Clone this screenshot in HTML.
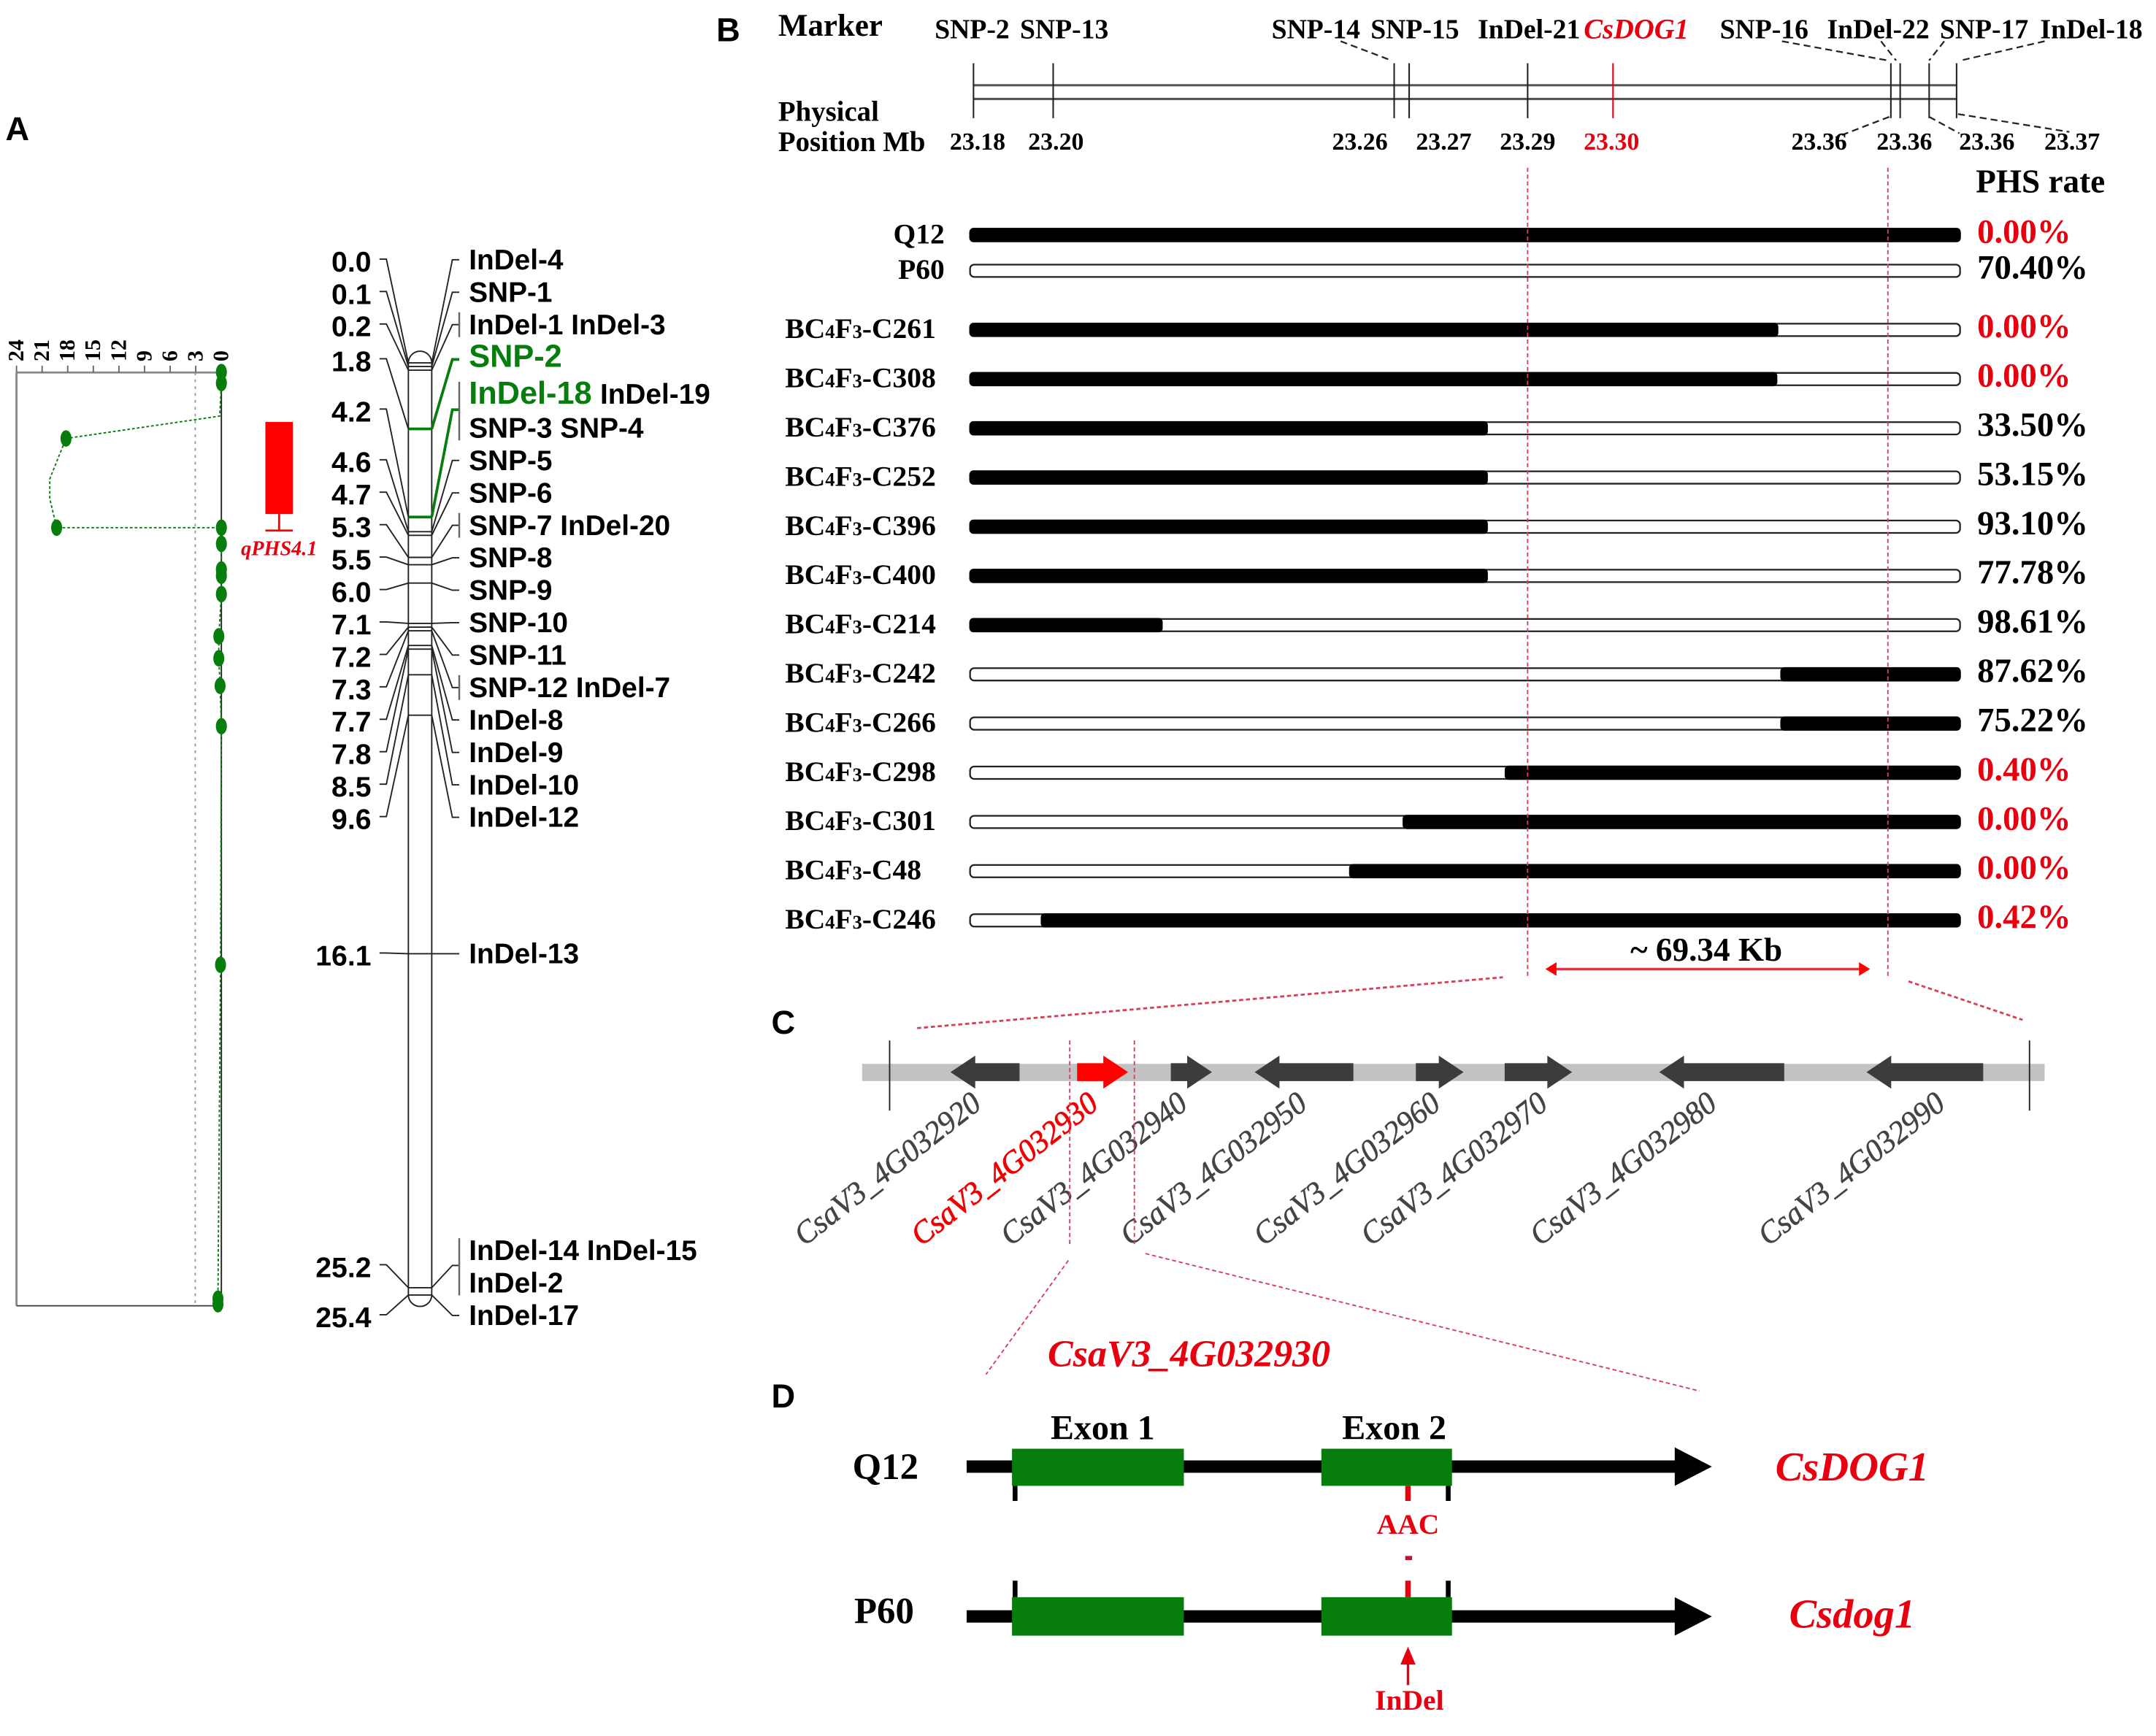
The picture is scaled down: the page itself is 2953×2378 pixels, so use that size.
<!DOCTYPE html>
<html lang="en">
<head>
<meta charset="utf-8">
<title>qPHS4.1 fine mapping of CsDOG1</title>
<style>
html,body{margin:0;padding:0;background:#fff}
svg{display:block}
.sans{font-family:"Liberation Sans",sans-serif;font-weight:700}
.serif{font-family:"Liberation Serif",serif;font-weight:700}
.ital{font-family:"Liberation Serif",serif;font-weight:700;font-style:italic}
.gene{font-family:"Liberation Serif",serif;font-style:italic;font-size:23px;fill:#444;stroke:#444;stroke-width:.3}
.gene.hot{fill:#f00000;stroke:#f00000;stroke-width:.45}
.red{fill:#e8000f}
.pink{stroke:#d8405a;stroke-width:1;stroke-dasharray:3 2;fill:none}
.dash{stroke:#222;stroke-width:1.2;stroke-dasharray:5 3;fill:none}
</style>
</head>
<body>
<svg id="fig" xmlns="http://www.w3.org/2000/svg" width="2953" height="2378" viewBox="0 0 1568 1263" preserveAspectRatio="none">
  <rect width="1568" height="1263" fill="#fff"/>

  <!-- Panel letters -->
  <text class="sans" font-size="24" x="4" y="102">A</text>
  <text class="sans" font-size="24" x="521" y="30">B</text>
  <text class="sans" font-size="24" x="561" y="752">C</text>
  <text class="sans" font-size="24" x="561" y="1024">D</text>

  <!-- Panel A frame -->
  <g id="lod-frame">
    <line x1="12" y1="271" x2="161" y2="271" stroke="#888" stroke-width="1.5"/>
    <line x1="12" y1="271" x2="12" y2="950" stroke="#888" stroke-width="1.5"/>
    <line x1="12" y1="950" x2="161" y2="950" stroke="#444" stroke-width="1"/>
    <line x1="161" y1="271" x2="161" y2="950" stroke="#222" stroke-width="1"/>
    <line x1="142" y1="271" x2="142" y2="950" stroke="#999" stroke-width="1" stroke-dasharray="2 3"/>
  </g>
  <g id="lod-axis"></g>
  <g id="lod-layer"></g>

  <!-- QTL -->
  <rect x="193" y="307" width="20" height="67" fill="#ff0000"/>
  <line x1="203" y1="374" x2="203" y2="386" stroke="#ff0000" stroke-width="1.5"/>
  <line x1="193" y1="386" x2="213" y2="386" stroke="#ff0000" stroke-width="1.5"/>
  <text class="ital red" font-size="15" x="203" y="404" text-anchor="middle">qPHS4.1</text>

  <!-- Genetic map -->
  <path d="M297 264 A8.5 8.5 0 0 1 314 264 V942 A8.5 8.5 0 0 1 297 942 Z" fill="#fff" stroke="#222" stroke-width="1"/>
  <g id="map-layer"></g>

  <!-- Panel B header -->
  <text class="serif" font-size="22.8" x="566" y="26">Marker</text>
  <text class="serif" font-size="20.6" x="566" y="88">Physical</text>
  <text class="serif" font-size="20.6" x="566" y="110">Position Mb</text>
  <g id="marker-names" class="serif" font-size="20" text-anchor="middle">
    <text x="707" y="28">SNP-2</text>
    <text x="774" y="28">SNP-13</text>
    <text x="957" y="28">SNP-14</text>
    <text x="1029" y="28">SNP-15</text>
    <text x="1112" y="28">InDel-21</text>
    <text class="ital red" font-size="20.5" x="1190" y="28">CsDOG1</text>
    <text x="1283" y="28">SNP-16</text>
    <text x="1366" y="28">InDel-22</text>
    <text x="1443" y="28">SNP-17</text>
    <text x="1521" y="28">InDel-18</text>
  </g>
  <g>
    <line class="dash" x1="975" y1="30" x2="1012" y2="44"/>
    <line class="dash" x1="1296" y1="30" x2="1373" y2="44"/>
    <line class="dash" x1="1368" y1="30" x2="1379" y2="44"/>
    <line class="dash" x1="1414" y1="30" x2="1403" y2="44"/>
    <line class="dash" x1="1487" y1="30" x2="1426" y2="44"/>
    <line class="dash" x1="1374" y1="85" x2="1335" y2="100"/>
    <line class="dash" x1="1424" y1="83" x2="1505" y2="96"/>
    <line class="dash" x1="1403" y1="85" x2="1425" y2="97"/>
  </g>
  <g id="phys-labels" class="serif" font-size="18" text-anchor="middle">
    <text x="711" y="109">23.18</text>
    <text x="768" y="109">23.20</text>
    <text x="989" y="109">23.26</text>
    <text x="1050" y="109">23.27</text>
    <text x="1111" y="109">23.29</text>
    <text class="red" x="1172" y="109">23.30</text>
    <text x="1323" y="109">23.36</text>
    <text x="1385" y="109">23.36</text>
    <text x="1445" y="109">23.36</text>
    <text x="1507" y="109">23.37</text>
  </g>
  <line x1="708" y1="62" x2="1423" y2="62" stroke="#555" stroke-width="1.6"/>
  <line x1="708" y1="72" x2="1423" y2="72" stroke="#555" stroke-width="1.6"/>
  <g id="phys-layer"></g>

  <text class="serif" font-size="24" x="1437" y="140">PHS rate</text>
  <g id="hap-layer"></g>

  <line class="pink" x1="1111" y1="122" x2="1111" y2="710"/>
  <line class="pink" x1="1373" y1="122" x2="1373" y2="710"/>
  <text class="serif" font-size="24" x="1241" y="699" text-anchor="middle">~ 69.34 Kb</text>
  <line x1="1130" y1="705" x2="1354" y2="705" stroke="#e03040" stroke-width="1.8"/>
  <polygon points="1124,705 1132,700 1132,710" fill="#f00"/>
  <polygon points="1360,705 1352,700 1352,710" fill="#f00"/>
  <line class="pink" style="stroke-width:1.5" x1="667" y1="748" x2="1093" y2="711"/>
  <line class="pink" style="stroke-width:1.5" x1="1388" y1="714" x2="1471" y2="742"/>

  <!-- Panel C -->
  <rect x="627" y="774" width="860" height="12.5" fill="#c2c2c2"/>
  <line x1="647" y1="757" x2="647" y2="808" stroke="#222" stroke-width="1"/>
  <line x1="1476" y1="757" x2="1476" y2="808" stroke="#222" stroke-width="1"/>
  <g id="gene-layer"></g>
  <g>
    <text class="gene" transform="translate(585,907) rotate(-38)" textLength="165" lengthAdjust="spacingAndGlyphs">CsaV3_4G032920</text>
    <text class="gene hot" transform="translate(670,907) rotate(-38)" textLength="165" lengthAdjust="spacingAndGlyphs">CsaV3_4G032930</text>
    <text class="gene" transform="translate(735,907) rotate(-38)" textLength="165" lengthAdjust="spacingAndGlyphs">CsaV3_4G032940</text>
    <text class="gene" transform="translate(822,907) rotate(-38)" textLength="165" lengthAdjust="spacingAndGlyphs">CsaV3_4G032950</text>
    <text class="gene" transform="translate(919,907) rotate(-38)" textLength="165" lengthAdjust="spacingAndGlyphs">CsaV3_4G032960</text>
    <text class="gene" transform="translate(997,907) rotate(-38)" textLength="165" lengthAdjust="spacingAndGlyphs">CsaV3_4G032970</text>
    <text class="gene" transform="translate(1120,907) rotate(-38)" textLength="165" lengthAdjust="spacingAndGlyphs">CsaV3_4G032980</text>
    <text class="gene" transform="translate(1286,907) rotate(-38)" textLength="165" lengthAdjust="spacingAndGlyphs">CsaV3_4G032990</text>
  </g>
  <line class="pink" x1="778" y1="757" x2="778" y2="906"/>
  <line class="pink" x1="825" y1="757" x2="825" y2="906"/>
  <line class="pink" x1="777" y1="917" x2="717" y2="1000"/>
  <line class="pink" x1="833" y1="912" x2="1236" y2="1012"/>

  <!-- Panel D -->
  <text class="ital red" font-size="27.6" x="762" y="994">CsaV3_4G032930</text>
  <text class="serif" font-size="25.5" x="802" y="1047" text-anchor="middle">Exon 1</text>
  <text class="serif" font-size="25.5" x="1014" y="1047" text-anchor="middle">Exon 2</text>

  <text class="serif" font-size="27" x="644" y="1076" text-anchor="middle">Q12</text>
  <rect x="703" y="1062.5" width="518" height="9" fill="#000"/>
  <polygon points="1218,1053 1245,1067 1218,1081" fill="#000"/>
  <rect x="736" y="1054" width="125" height="27" fill="#067d0c"/>
  <rect x="961" y="1054" width="95" height="27" fill="#067d0c"/>
  <rect x="736.5" y="1081" width="3.5" height="11" fill="#000"/>
  <rect x="1051.5" y="1081" width="3.5" height="11" fill="#000"/>
  <rect x="1022" y="1081" width="4" height="11" fill="#e8000f"/>
  <text class="serif red" font-size="21" x="1024" y="1116" text-anchor="middle">AAC</text>
  <rect x="1022" y="1132" width="5" height="3" fill="#c8102e"/>
  <text class="ital red" font-size="30" x="1347" y="1077" text-anchor="middle">CsDOG1</text>

  <text class="serif" font-size="27" x="643" y="1181" text-anchor="middle">P60</text>
  <rect x="703" y="1171.5" width="518" height="9" fill="#000"/>
  <polygon points="1218,1162 1245,1176 1218,1190" fill="#000"/>
  <rect x="736" y="1162" width="125" height="28" fill="#067d0c"/>
  <rect x="961" y="1162" width="95" height="28" fill="#067d0c"/>
  <rect x="736.5" y="1150" width="3.5" height="12" fill="#000"/>
  <rect x="1051.5" y="1150" width="3.5" height="12" fill="#000"/>
  <rect x="1022" y="1150" width="4" height="12" fill="#e8000f"/>
  <line x1="1024" y1="1226" x2="1024" y2="1206" stroke="#e8000f" stroke-width="1.8"/>
  <polygon points="1024,1198 1018.5,1211 1029.5,1211" fill="#e8000f"/>
  <text class="serif red" font-size="21" x="1025" y="1244" text-anchor="middle">InDel</text>
  <text class="ital red" font-size="30" x="1347" y="1184" text-anchor="middle">Csdog1</text>
</svg>

<script>
// ---------- Panel A: LOD profile ----------
const lodTicks = [24, 21, 18, 15, 12, 9, 6, 3, 0];
const lodCm = [0.25, 0.55, 1.45, 2.06, 3.16, 3.7, 4.49, 4.49, 4.93, 5.63, 5.8, 6.3, 7.45, 8.05, 8.8, 9.9, 16.4, 25.5, 25.65];
const lodValues = [0, 0, 0.2, 18.2, 20.1, 20.1, 19.3, 0, 0, 0, 0, 0, 0.3, 0.3, 0.15, 0, 0.1, 0.4, 0.4];
const lodHasPoint = [1, 1, 0, 1, 0, 0, 1, 1, 1, 1, 1, 1, 1, 1, 1, 1, 1, 1, 1];

// ---------- Panel A: genetic map ----------
const mapCm = [0.0, 0.1, 0.2, 1.8, 4.2, 4.6, 4.7, 5.3, 5.5, 6.0, 7.1, 7.2, 7.3, 7.7, 7.8, 8.5, 9.6, 16.1, 25.2, 25.4];
const mapMarkers = [
  ['InDel-4'], ['SNP-1'], ['InDel-1 InDel-3'], ['SNP-2'],
  ['InDel-18|InDel-19', 'SNP-3 SNP-4'], ['SNP-5'], ['SNP-6'], ['SNP-7 InDel-20'],
  ['SNP-8'], ['SNP-9'], ['SNP-10'], ['SNP-11'], ['SNP-12 InDel-7'],
  ['InDel-8'], ['InDel-9'], ['InDel-10'], ['InDel-12'], ['InDel-13'],
  ['InDel-14 InDel-15', 'InDel-2'], ['InDel-17']
];
const mapHighlighted = ['1.8', '4.2'];

// ---------- Panel B: physical map ----------
const physicalMb = [23.18, 23.1954, 23.2613, 23.2642, 23.2871, 23.3036, 23.3573, 23.3591, 23.3647, 23.37];
const physicalIsCandidate = [0, 0, 0, 0, 0, 1, 0, 0, 0, 0];

// ---------- Panel B: haplotypes ----------
const lineNames = ['Q12', 'P60', 'C261', 'C308', 'C376', 'C252', 'C396', 'C400', 'C214', 'C242', 'C266', 'C298', 'C301', 'C48', 'C246'];
const blackFrom = [0, 0, 0, 0, 0, 0, 0, 0, 0, 81.8, 81.8, 54, 43.7, 38.3, 7.2];
const blackTo = [100, 0, 81.6, 81.5, 52.3, 52.3, 52.3, 52.3, 19.5, 100, 100, 100, 100, 100, 100];
const phsRates = [0.00, 70.40, 0.00, 0.00, 33.50, 53.15, 93.10, 77.78, 98.61, 87.62, 75.22, 0.40, 0.00, 0.00, 0.42];

// ---------- Panel C: genes (Kb along the interval) ----------
const geneIds = ['920', '930', '940', '950', '960', '970', '980', '990'];
const geneStartKb = [3.7, 11.4, 17.1, 22.2, 32.0, 37.4, 46.8, 59.4];
const geneEndKb = [7.9, 14.5, 19.6, 28.2, 34.9, 41.5, 54.4, 66.5];
const geneStrand = [-1, 1, 1, -1, 1, 1, -1, -1];

// ---------- helpers / scales ----------
const NS = 'http://www.w3.org/2000/svg';
const GREEN = '#067d0c';
function mk(tag, parent, attrs) {
  const el = document.createElementNS(NS, tag);
  for (const k in attrs) el.setAttribute(k, attrs[k]);
  parent.appendChild(el);
  return el;
}
const lodX = v => 161 - v * 149 / 24;
const cmY = c => 264 + 26.7 * c;
const mbX = m => 708 + (m - 23.18) * 3763;
const pctX = p => 705 + p * 7.21;
const kbX = k => 647 + k * 11.96;

// LOD axis
const lodAxis = document.getElementById('lod-axis');
lodTicks.forEach(t => {
  const tick = mk('line', lodAxis, {x1: lodX(t), x2: lodX(t), y1: 266, y2: 271, stroke: '#666', 'stroke-width': 1});
  
  
  const lab = mk('text', lodAxis, {transform: `translate(${lodX(t) + 5},263) rotate(-90)`, 'font-size': 16, 'class': 'serif'});
  lab.textContent = t;
  
  
});

// LOD curve + points
const lodLayer = document.getElementById('lod-layer');
const lodLine = mk('polyline', lodLayer, {
  points: lodCm.map((c, i) => lodX(lodValues[i]) + ',' + cmY(c)).join(' '),
  fill: 'none', stroke: GREEN, 'stroke-width': 1, 'stroke-dasharray': '2 1.5'
});


lodCm.forEach((c, i) => {
  if (!lodHasPoint[i]) return;
  const p = mk('ellipse', lodLayer, {cx: lodX(lodValues[i]), cy: cmY(c), rx: 4, ry: 6, fill: GREEN});
  
  
});

// Genetic map: labels stack in clusters; a wide gap between loci starts a new cluster
const mapLayer = document.getElementById('map-layer');
const CLUSTER_GAP = 100;
let cursor = 189;
mapCm.forEach((cm, i) => {
  const barY = cmY(cm);
  if (i > 0 && barY - cmY(mapCm[i - 1]) > CLUSTER_GAP) {
    let count = 0, j = i;
    while (j < mapCm.length && (j === i || cmY(mapCm[j]) - cmY(mapCm[j - 1]) <= CLUSTER_GAP)) { count += mapMarkers[j].length; j++; }
    cursor = barY - 13.5 * (count - 1);
  }
  const green = mapHighlighted.includes(cm.toFixed(1));
  const lines = mapMarkers[i];
  const firstY = cursor;
  lines.forEach((txt, k) => {
    const parts = txt.split('|');
    const t = mk('text', mapLayer, {x: 341, y: cursor + 7, 'class': 'sans', 'font-size': 20.6});
    
    
    if (green && k === 0) {
      const s = mk('tspan', t, {fill: GREEN, 'font-size': 23});
      s.textContent = parts[0];
      
      
      if (parts[1]) {
        const s2 = mk('tspan', t, {dx: 6});
        s2.textContent = parts[1];
        
        
      }
      cursor += lines.length > 1 ? 1 : 3.4;
    } else {
      t.textContent = parts.join(' ');
    }
    cursor += 23.6;
  });
  const lastY = cursor - 23.6;
  const midY = (firstY + lastY) / 2 + (lines.length > 1 ? -1 : 0);
  const multi = lines.length > 1 || lines[0].includes(' ');
  const col = green ? GREEN : '#222';
  const sw = green ? 2 : 1;

  const bar = mk('line', mapLayer, {x1: 297, x2: 314, y1: barY, y2: barY, stroke: col, 'stroke-width': sw});
  
  

  const leftY = midY + 1.5;
  const leftLab = mk('text', mapLayer, {x: 270, y: leftY + 7, 'text-anchor': 'end', 'class': 'sans', 'font-size': 20.8});
  leftLab.textContent = cm.toFixed(1);
  
  
  const leftConn = mk('polyline', mapLayer, {points: `276,${leftY - 2} 281,${leftY - 2} 297,${barY}`, fill: 'none', stroke: '#222', 'stroke-width': 1});
  
  

  const rightConn = mk('polyline', mapLayer, {points: `314,${barY} 329,${midY} 334,${midY}`, fill: 'none', stroke: col, 'stroke-width': sw});
  
  
  if (multi) {
    const br = mk('line', mapLayer, {x1: 334, x2: 334, y1: firstY - 9, y2: lastY + 9, stroke: '#666', 'stroke-width': 1.3});
    
    
  }
});

// Physical map markers
const physLayer = document.getElementById('phys-layer');
physicalMb.forEach((m, i) => {
  const l = mk('line', physLayer, {x1: mbX(m), x2: mbX(m), y1: 46, y2: 86, stroke: physicalIsCandidate[i] ? '#e8000f' : '#222', 'stroke-width': 1.1});
  
  
});

// Haplotype rows
const hapLayer = document.getElementById('hap-layer');
lineNames.forEach((name, i) => {
  const y = i === 0 ? 171 : i === 1 ? 197 : 240 + 35.8 * (i - 2);
  const parent = i < 2;
  const lab = mk('text', hapLayer, {x: parent ? 687 : 571, y: y + 6, 'class': 'serif', 'font-size': 21, 'text-anchor': parent ? 'end' : 'start'});
  
  
  if (parent) {
    lab.textContent = name;
  } else {
    lab.innerHTML = 'BC<tspan font-size="14">4</tspan>F<tspan font-size="14">3</tspan>-' + name;
  }
  const shell = mk('rect', hapLayer, {x: 705.5, y: y - 4.5, width: 720, height: 9, rx: 3, fill: '#fff', stroke: '#222', 'stroke-width': 1.2});
  
  
  if (blackTo[i] > blackFrom[i]) {
    const seg = mk('rect', hapLayer, {x: pctX(blackFrom[i]), y: y - 5.2, width: pctX(blackTo[i]) - pctX(blackFrom[i]), height: 10.4, rx: 3, fill: '#000'});
    
    
  }
  const rate = mk('text', hapLayer, {x: 1438, y: y + 5.5, 'class': 'serif', 'font-size': 24.8, fill: phsRates[i] < 1 ? '#e8000f' : '#000'});
  rate.textContent = phsRates[i].toFixed(2) + '%';
  
  
});

// Gene arrows
const geneLayer = document.getElementById('gene-layer');
geneIds.forEach((id, i) => {
  const a = kbX(geneStartKb[i]), b = kbX(geneEndKb[i]);
  const cy = 780, h = 6.5, H = 12, head = 18;
  let pts;
  if (geneStrand[i] > 0) {
    pts = [[a, cy - h], [b - head, cy - h], [b - head, cy - H], [b, cy], [b - head, cy + H], [b - head, cy + h], [a, cy + h]];
  } else {
    pts = [[b, cy - h], [a + head, cy - h], [a + head, cy - H], [a, cy], [a + head, cy + H], [a + head, cy + h], [b, cy + h]];
  }
  const g = mk('polygon', geneLayer, {points: pts.map(p => p.join(',')).join(' '), fill: id === '930' ? '#ff0000' : '#3c3c3c'});
  
  
});
</script>
</body>
</html>
